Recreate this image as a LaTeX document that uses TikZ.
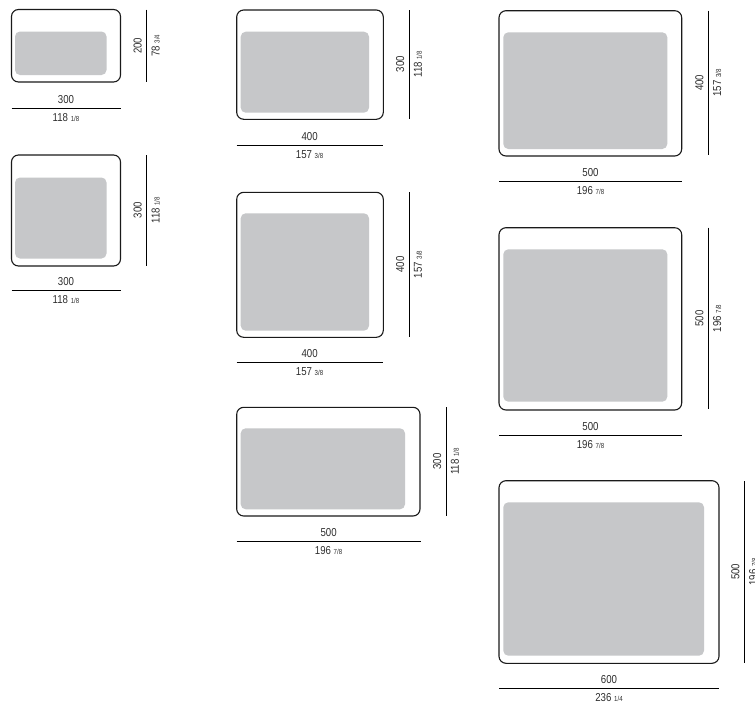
\documentclass[tikz,border=0pt]{standalone}
\usepackage{fontspec}
\setmainfont{Liberation Sans}[FakeStretch=0.84]
\usetikzlibrary{calc}
\definecolor{padgray}{HTML}{C6C7C9}
\definecolor{inkgray}{HTML}{2E2E2E}
\definecolor{edge}{HTML}{1A1A1A}
\newcommand\frc[1]{{\fontsize{7.3}{7.3}\selectfont #1}}
\tikzset{
  rug/.style={draw=edge, line width=1.1pt, rounded corners=7pt, fill=white},
  pad/.style={fill=padgray, rounded corners=5pt},
  dim/.style={draw=black, line width=1pt},
  lbl/.style={inner sep=0pt, text=inkgray, font=\fontsize{11.5}{11.5}\selectfont, anchor=base},
  vlbl/.style={lbl, rotate=90},
}
\begin{document}
\begin{tikzpicture}[x=1pt, y=-1pt]
\useasboundingbox (0,0) rectangle (755,704);

% ---------- Panel A : 300 x 200
\draw[rug] (11.5,9.5) rectangle (120.5,82);
\fill[pad] (15,31.5) rectangle (106.5,75);
\coordinate (a1) at (11.5,108.7); \coordinate (a2) at (120.5,108.7);
\draw[dim] (a1) -- (a2);
\node[lbl] (aw) at ($(a1)!0.5!(a2)+(0,-5)$) {300};
\node[lbl] (awi) at ($(a1)!0.5!(a2)+(0,13)$) {118 \frc{1/8}};
\coordinate (a3) at (146.7,9.5); \coordinate (a4) at (146.7,82);
\draw[dim] (a3) -- (a4);
\node[vlbl] (ah) at ($(a3)!0.5!(a4)+(-5,0)$) {200};
\node[vlbl] (ahi) at ($(a3)!0.5!(a4)+(12.8,0)$) {78 \frc{3/4}};

% ---------- Panel B : 300 x 300
\draw[rug] (11.5,155) rectangle (120.5,266);
\fill[pad] (15,177.5) rectangle (106.5,258.5);
\coordinate (b1) at (11.5,290.7); \coordinate (b2) at (120.5,290.7);
\draw[dim] (b1) -- (b2);
\node[lbl] (bw) at ($(b1)!0.5!(b2)+(0,-5)$) {300};
\node[lbl] (bwi) at ($(b1)!0.5!(b2)+(0,13)$) {118 \frc{1/8}};
\coordinate (b3) at (146.7,155); \coordinate (b4) at (146.7,265.5);
\draw[dim] (b3) -- (b4);
\node[vlbl] (bh) at ($(b3)!0.5!(b4)+(-5,0)$) {300};
\node[vlbl] (bhi) at ($(b3)!0.5!(b4)+(12.8,0)$) {118 \frc{1/8}};

% ---------- Panel C : 400 x 300
\draw[rug] (236.7,10) rectangle (383.3,119.3);
\fill[pad] (240.7,31.7) rectangle (369,112.7);
\coordinate (c1) at (236.7,145.7); \coordinate (c2) at (382.5,145.7);
\draw[dim] (c1) -- (c2);
\node[lbl] (cw) at ($(c1)!0.5!(c2)+(0,-5)$) {400};
\node[lbl] (cwi) at ($(c1)!0.5!(c2)+(0,13)$) {157 \frc{3/8}};
\coordinate (c3) at (409,10); \coordinate (c4) at (409,118.5);
\draw[dim] (c3) -- (c4);
\node[vlbl] (ch) at ($(c3)!0.5!(c4)+(-5,0)$) {300};
\node[vlbl] (chi) at ($(c3)!0.5!(c4)+(12.8,0)$) {118 \frc{1/8}};

% ---------- Panel D : 400 x 400
\draw[rug] (236.7,192.3) rectangle (383.3,337.3);
\fill[pad] (240.7,213.3) rectangle (369,330.7);
\coordinate (d1) at (236.7,362.7); \coordinate (d2) at (382.5,362.7);
\draw[dim] (d1) -- (d2);
\node[lbl] (dw) at ($(d1)!0.5!(d2)+(0,-5)$) {400};
\node[lbl] (dwi) at ($(d1)!0.5!(d2)+(0,13)$) {157 \frc{3/8}};
\coordinate (d3) at (409,192.3); \coordinate (d4) at (409,336.5);
\draw[dim] (d3) -- (d4);
\node[vlbl] (dh) at ($(d3)!0.5!(d4)+(-5,0)$) {400};
\node[vlbl] (dhi) at ($(d3)!0.5!(d4)+(12.8,0)$) {157 \frc{3/8}};

% ---------- Panel E : 500 x 300
\draw[rug] (236.7,407.3) rectangle (420,516);
\fill[pad] (240.7,428.3) rectangle (405,509.3);
\coordinate (e1) at (236.7,541.7); \coordinate (e2) at (420.5,541.7);
\draw[dim] (e1) -- (e2);
\node[lbl] (ew) at ($(e1)!0.5!(e2)+(0,-5)$) {500};
\node[lbl] (ewi) at ($(e1)!0.5!(e2)+(0,13)$) {196 \frc{7/8}};
\coordinate (e3) at (446,407.3); \coordinate (e4) at (446,515.7);
\draw[dim] (e3) -- (e4);
\node[vlbl] (eh) at ($(e3)!0.5!(e4)+(-5,0)$) {300};
\node[vlbl] (ehi) at ($(e3)!0.5!(e4)+(12.8,0)$) {118 \frc{1/8}};

% ---------- Panel F : 500 x 400
\draw[rug] (499,10.7) rectangle (681.7,156);
\fill[pad] (503.3,32.3) rectangle (667.3,149);
\coordinate (f1) at (499,181.7); \coordinate (f2) at (682,181.7);
\draw[dim] (f1) -- (f2);
\node[lbl] (fw) at ($(f1)!0.5!(f2)+(0,-5)$) {500};
\node[lbl] (fwi) at ($(f1)!0.5!(f2)+(0,13)$) {196 \frc{7/8}};
\coordinate (f3) at (708.3,10.7); \coordinate (f4) at (708.3,155);
\draw[dim] (f3) -- (f4);
\node[vlbl] (fh) at ($(f3)!0.5!(f4)+(-5,0)$) {400};
\node[vlbl] (fhi) at ($(f3)!0.5!(f4)+(12.8,0)$) {157 \frc{3/8}};

% ---------- Panel G : 500 x 500
\draw[rug] (499,227.7) rectangle (681.7,410);
\fill[pad] (503.3,249.3) rectangle (667.3,401.7);
\coordinate (g1) at (499,435); \coordinate (g2) at (682,435);
\draw[dim] (g1) -- (g2);
\node[lbl] (gw) at ($(g1)!0.5!(g2)+(0,-5)$) {500};
\node[lbl] (gwi) at ($(g1)!0.5!(g2)+(0,13)$) {196 \frc{7/8}};
\coordinate (g3) at (708.3,227.7); \coordinate (g4) at (708.3,409.3);
\draw[dim] (g3) -- (g4);
\node[vlbl] (gh) at ($(g3)!0.5!(g4)+(-5,0)$) {500};
\node[vlbl] (ghi) at ($(g3)!0.5!(g4)+(12.8,0)$) {196 \frc{7/8}};

% ---------- Panel H : 600 x 500 (its inch label runs off the right edge, as in the reference)
\draw[rug] (499,480.7) rectangle (719,663.3);
\fill[pad] (503.3,502.3) rectangle (704,655.7);
\coordinate (h1) at (499,688.3); \coordinate (h2) at (719,688.3);
\draw[dim] (h1) -- (h2);
\node[lbl] (hw) at ($(h1)!0.5!(h2)+(0,-5)$) {600};
\node[lbl] (hwi) at ($(h1)!0.5!(h2)+(0,13)$) {236 \frc{1/4}};
\coordinate (h3) at (744.3,481); \coordinate (h4) at (744.3,662.7);
\draw[dim] (h3) -- (h4);
\node[vlbl] (hh) at ($(h3)!0.5!(h4)+(-5,0)$) {500};
\node[vlbl] (hhi) at ($(h3)!0.5!(h4)+(12.8,0)$) {196 \frc{7/8}};
\end{tikzpicture}
\end{document}
